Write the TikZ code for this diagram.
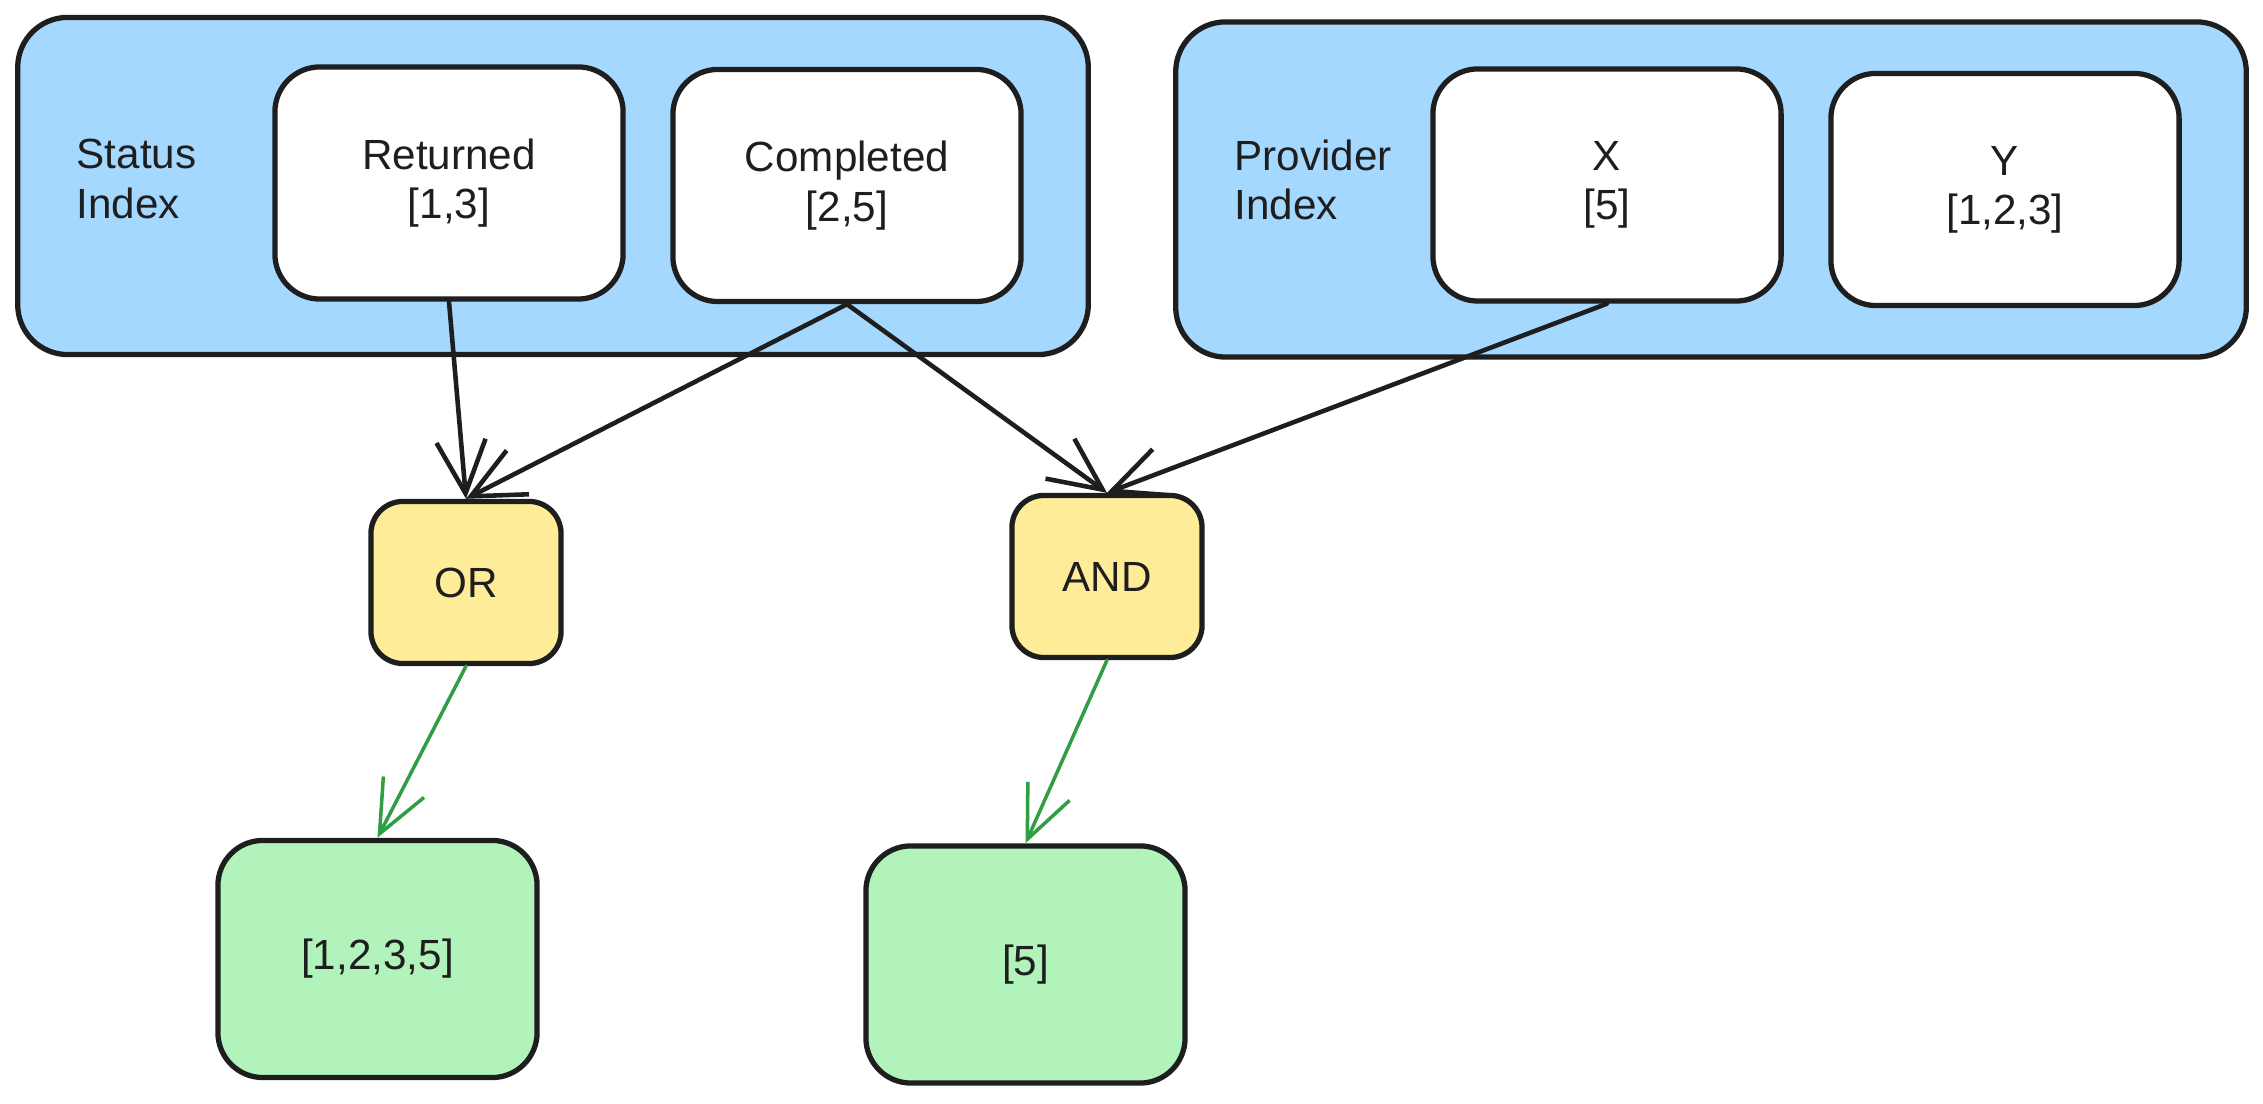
\documentclass[tikz,border=0pt]{standalone}
\usepackage{fontspec}
\setmainfont{Liberation Sans}
\usetikzlibrary{arrows.meta}
\definecolor{ink}{HTML}{1E1E1E}
\definecolor{paleblue}{HTML}{A5D8FF}
\definecolor{paleyellow}{HTML}{FFEC99}
\definecolor{palegreen}{HTML}{B2F2BB}
\definecolor{arrowgreen}{HTML}{2F9E44}
\begin{document}
\begin{tikzpicture}[x=0.01cm,y=-0.01cm,
  txt/.style={font=\fontsize{12}{14}\selectfont, text=ink, align=center},
  box/.style={txt, draw=ink, line width=1.5pt, rounded corners=0.45cm, inner sep=0pt},
  container/.style={box, fill=paleblue, rounded corners=0.5cm},
  idxbox/.style={box, fill=white, minimum width=3.48cm, minimum height=2.32cm},
  opbox/.style={box, fill=paleyellow, rounded corners=0.32cm, minimum width=1.9cm, minimum height=1.62cm},
  resbox/.style={box, fill=palegreen, rounded corners=0.45cm, minimum width=3.19cm, minimum height=2.37cm},
  lbl/.style={txt, align=left, anchor=west, inner sep=0pt},
  arr/.style={draw=ink, line width=1.3pt, line cap=round, -{Straight Barb[length=15pt,width=14pt,line width=1.3pt]}},
  garr/.style={draw=arrowgreen, line width=1pt, line cap=round, -{Straight Barb[length=15pt,width=13pt,line width=1pt]}}]
\useasboundingbox (0,0) rectangle (2263,1104);

% containers
\node[container, minimum width=10.70cm, minimum height=3.37cm] (status) at (553,186) {};
\node[container, minimum width=10.70cm, minimum height=3.35cm] (provider) at (1711,189.5) {};

\node[lbl] (statuslbl) at (76,179) {Status\\Index};
\node[lbl] (providerlbl) at (1234,180) {Provider\\Index};

% index entries
\node[idxbox] (returned) at (449,183) {Returned\\{[1,3]}};
\node[idxbox] (completed) at (847,185.5) {Completed\\{[2,5]}};
\node[idxbox] (x) at (1607,185) {X\\{[5]}};
\node[idxbox] (y) at (2005,189.5) {Y\\{[1,2,3]}};

% operators
\node[opbox] (or) at (466,582.5) {OR};
\node[opbox] (and) at (1107,576.5) {AND};

% results
\node[resbox] (res1) at (377.5,959) {[1,2,3,5]};
\node[resbox] (res2) at (1025.5,964.5) {[5]};

% connectors
\draw[arr] (returned.south) -- (or.north);
\draw[arr] (completed.south) -- (or.north);
\draw[arr] (completed.south) -- (and.north);
\draw[arr] (x.south) -- (and.north);
\draw[garr] (or.south) -- (res1.north);
\draw[garr] (and.south) -- (res2.north);
\end{tikzpicture}
\end{document}
